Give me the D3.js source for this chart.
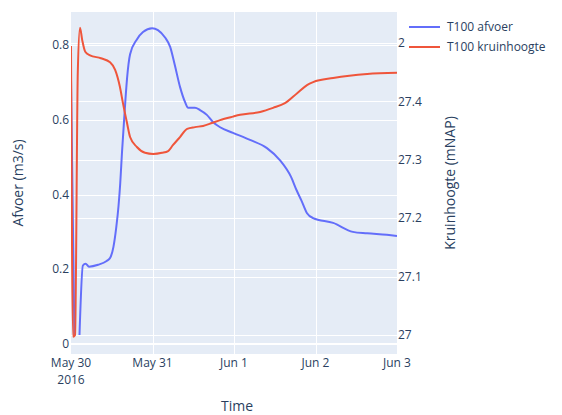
<!DOCTYPE html>
<html>
<head>
<meta charset="utf-8">
<script src="https://cdn.jsdelivr.net/npm/d3@7"></script>
<style>
  html, body { margin: 0; padding: 0; background: #fff; }
  svg { display: block; font-family: "Open Sans", "Noto Sans", sans-serif; }
</style>
</head>
<body>
<svg id="chart" width="562" height="415"></svg>
<script>
// Time axis: hours after 2016-05-30 00:00
const startTime = Date.UTC(2016, 4, 30);

// T100 afvoer (m3/s); null marks a missing reading
const afvoerHours = [0, 1, 1.8, 2.5, 3.5, 4.3, 5.3, 8, 10.5, 11.5, 12.5, 13.3, 14, 14.5, 15, 16, 16.5, 17.4,
  19.4, 21.2, 23.9, 25.6, 27.7, 29.2, 30.6, 32.1, 33.6, 34.5, 36.5, 38, 40, 41.8, 43.9, 47.7, 52.7,
  57.7, 61.5, 64.8, 66.5, 67.8, 69.5, 71.3, 77.2, 83, 87.2, 93, 96];
const afvoerValues = [0.71, 0.024, null, 0.024, 0.21, 0.215, 0.207, 0.212, 0.222, 0.23, 0.26, 0.31, 0.37, 0.43, 0.51, 0.65, 0.71, 0.775,
  0.815, 0.835, 0.845, 0.84, 0.82, 0.795, 0.745, 0.688, 0.647, 0.632, 0.632, 0.626, 0.613, 0.594, 0.58, 0.565, 0.546,
  0.524, 0.492, 0.447, 0.41, 0.385, 0.35, 0.337, 0.324, 0.30, 0.296, 0.292, 0.289];

// T100 kruinhoogte (mNAP)
const kruinHours = [0, 0.6, 1.2, 2.0, 2.65, 3.3, 4.2, 5.6, 8.8, 11.5, 13, 14.4, 15.3, 16.5, 17.4, 19.4, 21.8,
  24.2, 26.8, 28.6, 30, 32.1, 34.2, 36.5, 38.9, 41.5, 43.9, 47.7, 49.8, 55.7, 59.5, 63, 66.6, 69.5,
  71.3, 77.2, 87.2, 96];
const kruinValues = [27.495, 26.997, 27.0, 27.45, 27.526, 27.505, 27.485, 27.479, 27.474, 27.467, 27.454, 27.425, 27.397, 27.363, 27.339, 27.322, 27.312,
  27.31, 27.312, 27.315, 27.325, 27.339, 27.353, 27.356, 27.358, 27.363, 27.368, 27.374, 27.377, 27.382, 27.389, 27.397, 27.414, 27.428,
  27.433, 27.44, 27.447, 27.449];

// Axis ticks
const xTickDays = [0, 1, 2, 3, 4];
const xTickLabels = [["May 30", "2016"], ["May 31"], ["Jun 1"], ["Jun 2"], ["Jun 3"]];
const leftTicks = [0, 0.2, 0.4, 0.6, 0.8];
const leftTickLabels = ["0", "0.2", "0.4", "0.6", "0.8"];
const rightTicks = [27, 27.1, 27.2, 27.3, 27.4, 27.5];
const rightTickLabels = ["27", "27.1", "27.2", "27.3", "27.4", "27.5"];

const seriesNames = ["T100 afvoer", "T100 kruinhoogte"];
const seriesColors = ["#636efa", "#EF553B"];

const textColor = "#2a3f5f";
const plot = { left: 71, right: 397, top: 12, bottom: 354 };

const svg = d3.select("#chart");
const hourToDate = h => new Date(startTime + h * 3600 * 1000);

const x = d3.scaleUtc()
  .domain([hourToDate(0), hourToDate(96)])
  .range([plot.left, plot.right]);
const yLeft = d3.scaleLinear().domain([-0.02676, 0.8883]).range([plot.bottom, plot.top]);
const yRight = d3.scaleLinear().domain([26.9675, 27.5531]).range([plot.bottom, plot.top]);

// Plot background
svg.append("rect")
  .attr("x", plot.left).attr("y", plot.top)
  .attr("width", plot.right - plot.left).attr("height", plot.bottom - plot.top)
  .attr("fill", "#E5ECF6");

const grid = svg.append("g").attr("stroke", "#fff").attr("fill", "none");
// vertical grid
xTickDays.slice(1, -1).forEach(d => {
  const px = Math.round(x(hourToDate(d * 24))) + 0.5;
  grid.append("line").attr("x1", px).attr("x2", px).attr("y1", plot.top).attr("y2", plot.bottom).attr("stroke-width", 1);
});
// right-axis grid
rightTicks.forEach(t => {
  const py = Math.round(yRight(t)) + 0.5;
  grid.append("line").attr("x1", plot.left).attr("x2", plot.right).attr("y1", py).attr("y2", py).attr("stroke-width", 1);
});
// left-axis grid, zero line thicker
leftTicks.forEach(t => {
  const py = Math.round(yLeft(t)) + (t === 0 ? 0 : 0.5);
  grid.append("line").attr("x1", plot.left).attr("x2", plot.right).attr("y1", py).attr("y2", py)
    .attr("stroke-width", t === 0 ? 2 : 1);
});

// Clip lines to plot area
svg.append("clipPath").attr("id", "plotClip")
  .append("rect")
  .attr("x", plot.left).attr("y", plot.top)
  .attr("width", plot.right - plot.left).attr("height", plot.bottom - plot.top);

const lines = svg.append("g").attr("clip-path", "url(#plotClip)");

const afvoerData = afvoerHours.map((h, i) => ({ t: hourToDate(h), v: afvoerValues[i] }));
const kruinData = kruinHours.map((h, i) => ({ t: hourToDate(h), v: kruinValues[i] }));

const afvoerLine = d3.line()
  .defined(d => d.v !== null)
  .x(d => x(d.t)).y(d => yLeft(d.v))
  .curve(d3.curveMonotoneX);
const kruinLine = d3.line()
  .x(d => x(d.t)).y(d => yRight(d.v))
  .curve(d3.curveMonotoneX);

lines.append("path").datum(afvoerData)
  .attr("d", afvoerLine)
  .attr("fill", "none").attr("stroke", seriesColors[0]).attr("stroke-width", 2)
  .attr("stroke-linejoin", "round");
lines.append("path").datum(kruinData)
  .attr("d", kruinLine)
  .attr("fill", "none").attr("stroke", seriesColors[1]).attr("stroke-width", 2)
  .attr("stroke-linejoin", "round");

// X tick labels
const xLabels = svg.append("g").attr("fill", textColor).attr("font-size", 12).attr("text-anchor", "middle");
xTickDays.forEach((d, i) => {
  const t = xLabels.append("text").attr("x", x(hourToDate(d * 24))).attr("y", 367);
  xTickLabels[i].forEach((line, j) => {
    t.append("tspan").attr("x", x(hourToDate(d * 24))).attr("dy", j === 0 ? 0 : 17).text(line);
  });
});

// Left tick labels
const lLabels = svg.append("g").attr("fill", textColor).attr("font-size", 12).attr("text-anchor", "end");
leftTicks.forEach((t, i) => {
  lLabels.append("text").attr("x", 69).attr("y", yLeft(t)).attr("dy", "0.35em").text(leftTickLabels[i]);
});

// Right tick labels
const rLabels = svg.append("g").attr("fill", textColor).attr("font-size", 12).attr("text-anchor", "start");
rightTicks.forEach((t, i) => {
  rLabels.append("text").attr("x", 398).attr("y", yRight(t)).attr("dy", "0.35em").text(rightTickLabels[i]);
});

// Axis titles
svg.append("text").attr("x", 237).attr("y", 411).attr("text-anchor", "middle")
  .attr("fill", textColor).attr("font-size", 14).text("Time");
svg.append("text").attr("transform", `translate(23,${(plot.top + plot.bottom) / 2}) rotate(-90)`)
  .attr("text-anchor", "middle").attr("fill", textColor).attr("font-size", 14).text("Afvoer (m3/s)");
svg.append("text").attr("transform", `translate(455,${(plot.top + plot.bottom) / 2}) rotate(-90)`)
  .attr("text-anchor", "middle").attr("fill", textColor).attr("font-size", 14).text("Kruinhoogte (mNAP)");

// Legend
const legend = svg.append("g").attr("transform", "translate(405,12)");
legend.append("rect").attr("x", 0).attr("y", 0).attr("width", 157).attr("height", 48).attr("fill", "#fff");
seriesNames.forEach((name, i) => {
  const y = 15 + i * 20;
  legend.append("line").attr("x1", 4).attr("x2", 35).attr("y1", y).attr("y2", y)
    .attr("stroke", seriesColors[i]).attr("stroke-width", 2);
  legend.append("text").attr("x", 42).attr("y", y).attr("dy", "0.35em")
    .attr("fill", textColor).attr("font-size", 12).text(name);
});
</script>
</body>
</html>
